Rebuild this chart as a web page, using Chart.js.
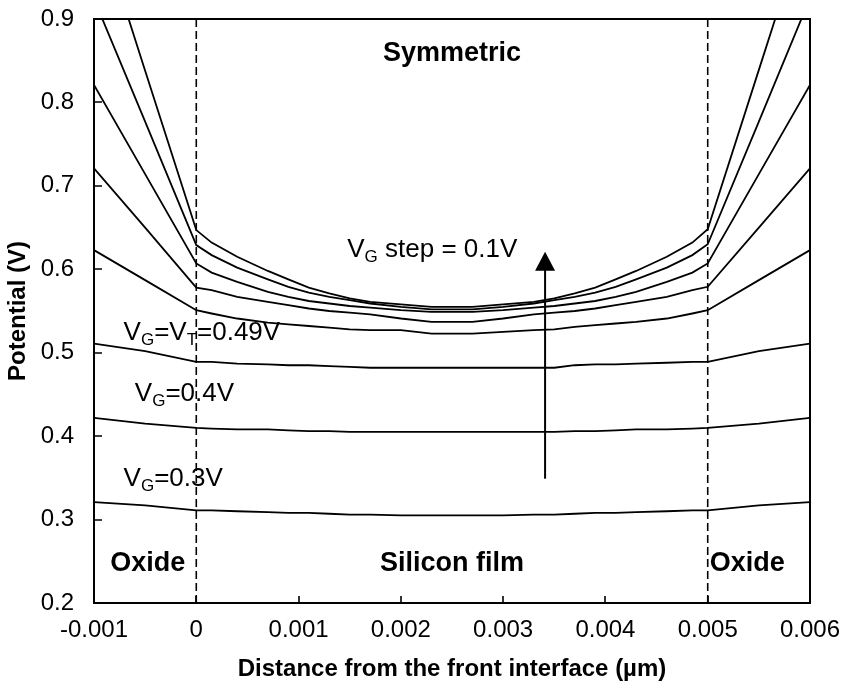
<!DOCTYPE html>
<html>
<head>
<meta charset="utf-8">
<script src="https://cdn.jsdelivr.net/npm/chart.js@4.4.0/dist/chart.umd.min.js"></script>
<style>
  html, body { margin: 0; padding: 0; background: #fff; }
  #wrap { width: 844px; height: 688px; }
</style>
</head>
<body>
<div id="wrap"><canvas id="potChart" width="844" height="688"></canvas></div>
<script>
// distance from the front interface (um)
const xPos = [-0.001, -0.0005, 0, 0.00015, 0.0004, 0.0007, 0.0009, 0.0011, 0.0013, 0.0015, 0.0017, 0.002, 0.0023,
              0.0027, 0.003, 0.0033, 0.0035, 0.0037, 0.0039, 0.0041, 0.0043, 0.0046, 0.00485, 0.005, 0.0055, 0.006];

// potential (V) for each gate voltage
const vg030 = [0.321, 0.317, 0.311, 0.311, 0.310, 0.309, 0.308, 0.308, 0.307, 0.306, 0.306, 0.305, 0.305,
               0.305, 0.305, 0.306, 0.306, 0.307, 0.308, 0.308, 0.309, 0.310, 0.311, 0.311, 0.317, 0.321];
const vg040 = [0.422, 0.415, 0.410, 0.409, 0.408, 0.408, 0.407, 0.406, 0.406, 0.405, 0.405, 0.405, 0.405,
               0.405, 0.405, 0.405, 0.405, 0.406, 0.406, 0.407, 0.408, 0.408, 0.409, 0.410, 0.415, 0.422];
const vg049 = [0.511, 0.502, 0.489, 0.489, 0.487, 0.486, 0.485, 0.485, 0.484, 0.483, 0.482, 0.482, 0.482,
               0.482, 0.482, 0.482, 0.482, 0.485, 0.486, 0.486, 0.487, 0.488, 0.489, 0.489, 0.502, 0.511];
const vg059 = [0.623, 0.587, 0.551, 0.547, 0.541, 0.536, 0.534, 0.532, 0.530, 0.528, 0.527, 0.527, 0.523,
               0.523, 0.525, 0.527, 0.528, 0.531, 0.533, 0.535, 0.537, 0.541, 0.547, 0.551, 0.587, 0.623];
const vg069 = [0.721, 0.650, 0.578, 0.575, 0.567, 0.561, 0.557, 0.553, 0.550, 0.548, 0.546, 0.541, 0.537,
               0.537, 0.541, 0.546, 0.548, 0.550, 0.553, 0.557, 0.561, 0.567, 0.575, 0.579, 0.650, 0.721];
const vg079 = [0.821, 0.714, 0.607, 0.596, 0.585, 0.573, 0.567, 0.562, 0.559, 0.556, 0.554, 0.551, 0.549,
               0.549, 0.551, 0.554, 0.556, 0.559, 0.562, 0.567, 0.573, 0.585, 0.596, 0.607, 0.714, 0.821];
const vg089 = [0.924, 0.777, 0.629, 0.617, 0.602, 0.588, 0.579, 0.572, 0.567, 0.563, 0.559, 0.555, 0.552,
               0.552, 0.555, 0.559, 0.563, 0.567, 0.572, 0.579, 0.588, 0.602, 0.617, 0.630, 0.777, 0.925];
const vg099 = [1.030, 0.838, 0.647, 0.632, 0.615, 0.598, 0.588, 0.578, 0.571, 0.565, 0.561, 0.558, 0.555,
               0.555, 0.558, 0.561, 0.565, 0.571, 0.578, 0.588, 0.598, 0.615, 0.632, 0.648, 0.839, 1.030];

const xTickVals = [-0.001, 0, 0.001, 0.002, 0.003, 0.004, 0.005, 0.006];
const xTickLabels = ['-0.001', '0', '0.001', '0.002', '0.003', '0.004', '0.005', '0.006'];
const yTickVals = [0.2, 0.3, 0.4, 0.5, 0.6, 0.7, 0.8, 0.9];
const yTickLabels = ['0.2', '0.3', '0.4', '0.5', '0.6', '0.7', '0.8', '0.9'];

// oxide / silicon interfaces
const interfaceX = [0, 0.005];

// VG step arrow
const arrowX = 0.00341;
const arrowFrom = 0.349;
const arrowTip = 0.621;

const FONT = "'Liberation Sans', Arial, sans-serif";

// text on the plot, anchored in data units (x, y = baseline)
const notes = [
  { parts: ['V', '_G', '=V', '_T', '=0.49V'], x: -0.000711, y: 0.5147, size: 26 },
  { parts: ['V', '_G', '=0.4V'], x: -0.000601, y: 0.4426, size: 26 },
  { parts: ['V', '_G', '=0.3V'], x: -0.000711, y: 0.3406, size: 26 },
  { parts: ['V', '_G', ' step = 0.1V'], x: 0.001476, y: 0.6147, size: 26 },
  { text: 'Symmetric', x: 0.0025, y: 0.8496, size: 27, bold: true },
  { text: 'Oxide', x: -0.000475, y: 0.2385, size: 27, bold: true },
  { text: 'Silicon film', x: 0.0025, y: 0.2385, size: 27, bold: true },
  { text: 'Oxide', x: 0.005387, y: 0.2385, size: 27, bold: true }
];

const gateSeries = [vg030, vg040, vg049, vg059, vg069, vg079, vg089, vg099];
const datasets = gateSeries.map(s => ({
  data: xPos.map((x, i) => ({ x: x, y: s[i] })),
  borderColor: '#000',
  borderWidth: 1.8,
  pointRadius: 0,
  tension: 0,
  fill: false
}));
interfaceX.forEach(v => datasets.push({
  data: [{ x: v, y: yTickVals[0] }, { x: v, y: yTickVals[yTickVals.length - 1] }],
  borderColor: '#000',
  borderWidth: 1.6,
  borderDash: [8, 4],
  pointRadius: 0,
  fill: false
}));

const decor = {
  id: 'decor',
  afterDatasetsDraw(chart) {
    const { ctx, chartArea: a, scales: { x, y } } = chart;
    ctx.save();
    ctx.strokeStyle = '#000';
    ctx.fillStyle = '#000';

    // frame
    ctx.lineWidth = 2;
    ctx.strokeRect(a.left, a.top, a.right - a.left, a.bottom - a.top);

    // ticks pointing inwards
    ctx.lineWidth = 1.6;
    ctx.beginPath();
    xTickVals.forEach(v => {
      const p = Math.round(x.getPixelForValue(v));
      ctx.moveTo(p, a.bottom);
      ctx.lineTo(p, a.bottom - 7);
    });
    yTickVals.forEach(v => {
      const p = Math.round(y.getPixelForValue(v));
      ctx.moveTo(a.left, p);
      ctx.lineTo(a.left + 8, p);
    });
    ctx.stroke();

    // arrow
    const ax = x.getPixelForValue(arrowX);
    const yb = y.getPixelForValue(arrowFrom);
    const yt = y.getPixelForValue(arrowTip);
    ctx.lineWidth = 2;
    ctx.beginPath();
    ctx.moveTo(ax, yb);
    ctx.lineTo(ax, yt + 15);
    ctx.stroke();
    ctx.beginPath();
    ctx.moveTo(ax, yt);
    ctx.lineTo(ax - 10, yt + 19);
    ctx.lineTo(ax + 10, yt + 19);
    ctx.closePath();
    ctx.fill();

    // labels
    ctx.textBaseline = 'alphabetic';
    notes.forEach(n => {
      const px = x.getPixelForValue(n.x);
      const py = y.getPixelForValue(n.y);
      if (n.text) {
        ctx.textAlign = 'center';
        ctx.font = (n.bold ? 'bold ' : '') + n.size + 'px ' + FONT;
        ctx.fillText(n.text, px, py);
        return;
      }
      ctx.textAlign = 'left';
      let cx = px;
      n.parts.forEach(p => {
        const sub = p[0] === '_';
        const t = sub ? p.slice(1) : p;
        ctx.font = (sub ? Math.round(n.size * 0.66) : n.size) + 'px ' + FONT;
        ctx.fillText(t, cx, sub ? py + 5 : py);
        cx += ctx.measureText(t).width;
      });
    });
    ctx.restore();
  }
};

const noPad = s => { s.paddingLeft = 0; s.paddingRight = 0; s.paddingTop = 0; s.paddingBottom = 0; };

new Chart(document.getElementById('potChart'), {
  type: 'line',
  data: { datasets },
  options: {
    responsive: false,
    animation: false,
    devicePixelRatio: 1,
    layout: { padding: { left: 0, right: 34, top: 19, bottom: 0 } },
    plugins: { legend: { display: false }, tooltip: { enabled: false } },
    scales: {
      x: {
        type: 'linear',
        min: xTickVals[0],
        max: xTickVals[xTickVals.length - 1],
        afterBuildTicks: s => { s.ticks = xTickVals.map(v => ({ value: v })); },
        afterFit: s => { s.height = 85; noPad(s); },
        grid: { display: false, drawTicks: false },
        border: { display: false },
        ticks: {
          padding: 13,
          maxRotation: 0,
          autoSkip: false,
          color: '#000',
          font: { family: FONT, size: 24 },
          callback: (v, i) => xTickLabels[i]
        },
        title: {
          display: true,
          text: 'Distance from the front interface (µm)',
          color: '#000',
          font: { family: FONT, size: 24, weight: 'bold' },
          padding: { top: 0, bottom: 4 }
        }
      },
      y: {
        type: 'linear',
        min: yTickVals[0],
        max: yTickVals[yTickVals.length - 1],
        afterBuildTicks: s => { s.ticks = yTickVals.map(v => ({ value: v })); },
        afterFit: s => { s.width = 94; noPad(s); },
        grid: { display: false, drawTicks: false },
        border: { display: false },
        ticks: {
          padding: 20,
          autoSkip: false,
          color: '#000',
          font: { family: FONT, size: 24 },
          callback: (v, i) => yTickLabels[i]
        },
        title: {
          display: true,
          text: 'Potential (V)',
          color: '#000',
          font: { family: FONT, size: 24, weight: 'bold' },
          padding: { top: 4, bottom: 0 }
        }
      }
    }
  },
  plugins: [decor]
});
</script>
</body>
</html>
